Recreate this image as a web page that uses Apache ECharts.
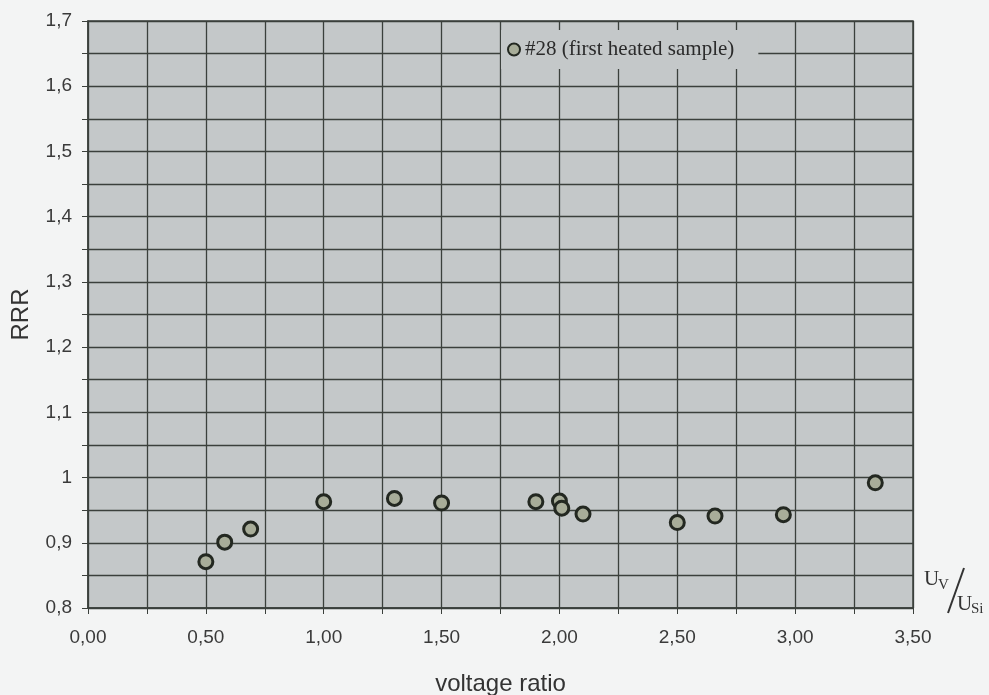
<!DOCTYPE html>
<html>
<head>
<meta charset="utf-8">
<script src="https://cdn.jsdelivr.net/npm/echarts@6/dist/echarts.min.js"></script>
<style>
html,body{margin:0;padding:0;background:#f3f4f4;}
#chart{width:989px;height:695px;}
</style>
</head>
<body>
<div id="chart"></div>
<script>
// ---- data ----
var seriesName = '#28 (first heated sample)';
var voltageRatio = [0.50, 0.58, 0.69, 1.00, 1.30, 1.50, 1.90, 2.00, 2.01, 2.10, 2.50, 2.66, 2.95, 3.34];
var rrrValues    = [0.871, 0.901, 0.921, 0.963, 0.968, 0.961, 0.963, 0.964, 0.953, 0.944, 0.931, 0.941, 0.943, 0.992];
var xAxisTitle = 'voltage ratio';
var yAxisTitle = 'RRR';
var xLabelValues = [0, 0.5, 1, 1.5, 2, 2.5, 3, 3.5];
var yLabelValues = [0.8, 0.9, 1.0, 1.1, 1.2, 1.3, 1.4, 1.5, 1.6, 1.7];

var points = voltageRatio.map(function (x, i) { return [x, rrrValues[i]]; });

function isLabel(v, list) {
  for (var i = 0; i < list.length; i++) if (Math.abs(list[i] - v) < 1e-6) return true;
  return false;
}
var sans = "'Liberation Sans', Arial, sans-serif";
var serifFont = "'Liberation Serif', 'Times New Roman', serif";
var gridColor = '#3b403c';

var chart = echarts.init(document.getElementById('chart'));
chart.setOption({
  backgroundColor: '#f3f4f4',
  animation: false,
  grid: {
    left: 88, right: 76, top: 21, bottom: 87,
    containLabel: false, outerBoundsMode: 'none',
    show: true, backgroundColor: '#c4c8c9', borderColor: gridColor, borderWidth: 1.5
  },
  legend: {
    left: 501, top: 30,
    padding: [9, 24, 9, 6],
    backgroundColor: '#c4c8c9',
    itemWidth: 12, itemHeight: 12,
    textStyle: { fontFamily: serifFont, fontSize: 21, color: '#2b2b2b' },
    data: [seriesName]
  },
  xAxis: {
    type: 'value', min: 0, max: 3.5, interval: 0.25,
    name: xAxisTitle, nameLocation: 'middle', nameGap: 64,
    nameTextStyle: { fontFamily: sans, fontSize: 24, color: '#333' },
    axisLine: { show: true, lineStyle: { color: gridColor, width: 1.5 } },
    axisTick: { show: true, length: 6, lineStyle: { color: gridColor } },
    axisLabel: {
      margin: 20, fontFamily: sans, fontSize: 19, color: '#3a3a3a',
      formatter: function (v) { return isLabel(v, xLabelValues) ? v.toFixed(2).replace('.', ',') : ''; }
    },
    splitLine: { show: true, lineStyle: { color: gridColor, width: 1.3 } }
  },
  yAxis: {
    type: 'value', min: 0.8, max: 1.7, interval: 0.05,
    name: yAxisTitle, nameLocation: 'middle', nameGap: 55,
    nameTextStyle: { fontFamily: sans, fontSize: 24, color: '#333' },
    axisLine: { show: true, lineStyle: { color: gridColor, width: 1.5 } },
    axisTick: { show: true, length: 6, lineStyle: { color: gridColor } },
    axisLabel: {
      margin: 16, fontFamily: sans, fontSize: 19, color: '#3a3a3a',
      formatter: function (v) {
        if (!isLabel(v, yLabelValues)) return '';
        if (Math.abs(v - 1) < 1e-6) return '1';
        return v.toFixed(1).replace('.', ',');
      }
    },
    splitLine: { show: true, lineStyle: { color: gridColor, width: 1.3 } }
  },
  series: [{
    name: seriesName,
    type: 'scatter',
    symbol: 'circle',
    symbolSize: 14,
    itemStyle: { color: '#a8ad99', borderColor: '#232821', borderWidth: 3, opacity: 1 },
    data: points,
    z: 5
  }],
  graphic: [
    { type: 'text', x: 924, y: 569, style: { text: 'U', font: "21px 'Liberation Serif', serif", fill: '#333', verticalAlign: 'top', textVerticalAlign: 'top' } },
    { type: 'text', x: 938, y: 578, style: { text: 'V', font: "15px 'Liberation Serif', serif", fill: '#333', verticalAlign: 'top', textVerticalAlign: 'top' } },
    { type: 'line', shape: { x1: 964, y1: 568, x2: 948, y2: 613 }, style: { stroke: '#333', lineWidth: 2 } },
    { type: 'text', x: 957, y: 594, style: { text: 'U', font: "21px 'Liberation Serif', serif", fill: '#333', verticalAlign: 'top', textVerticalAlign: 'top' } },
    { type: 'text', x: 971, y: 602, style: { text: 'Si', font: "15px 'Liberation Serif', serif", fill: '#333', verticalAlign: 'top', textVerticalAlign: 'top' } }
  ]
});
</script>
</body>
</html>
